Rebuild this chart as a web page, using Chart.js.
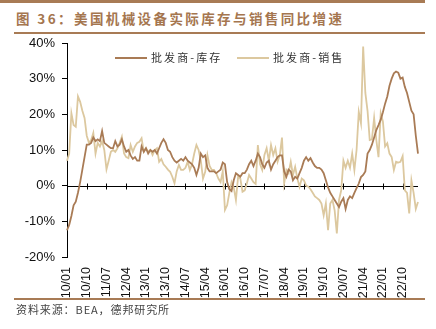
<!DOCTYPE html>
<html lang="zh-CN">
<head>
<meta charset="UTF-8">
<title>美国机械设备实际库存与销售同比增速</title>
<script src="https://cdn.jsdelivr.net/npm/chart.js"></script>
<style>
  body { margin: 0; background: #fff; font-family: "Noto Sans CJK SC", sans-serif; }
  #page { position: relative; width: 436px; height: 329px; overflow: hidden; }
  #chartBox { position: absolute; left: 0; top: 0; width: 436px; height: 329px; }
  .rule { position: absolute; background: #a87b55; }
  #title { position: absolute; left: 16px; top: 8px; font-size: 13.5px; font-weight: bold; color: #a5764f; letter-spacing: 2.4px; white-space: nowrap; }
  #source { position: absolute; left: 16px; top: 301px; font-size: 11px; color: #444; letter-spacing: 0.9px; white-space: nowrap; }
  .legend { position: absolute; top: 49px; font-size: 11px; color: #333; letter-spacing: 2.1px; white-space: nowrap; }
  .legend i { display: inline-block; width: 32px; height: 2px; vertical-align: middle; margin-right: 4px; margin-top: -2px; }
</style>
</head>
<body>
<div id="page">
  <div class="rule" style="left:0;top:0;width:425px;height:3px;"></div>
  <div id="title">图 36：美国机械设备实际库存与销售同比增速</div>
  <div class="rule" style="left:14px;top:32px;width:411px;height:1.5px;"></div>
  <div id="chartBox"><canvas id="chart"></canvas></div>
  <div class="legend" style="left:115px;"><i style="background:#a97b55"></i>批发商-库存</div>
  <div class="legend" style="left:237px;"><i style="background:#dcc89f"></i>批发商-销售</div>
  <div class="rule" style="left:14px;top:298px;width:411px;height:1.5px;"></div>
  <div id="source">资料来源：BEA，德邦研究所</div>
</div>
<script>
// monthly categories 2010/01 .. 2023/05
const months = [];
for (let y = 10; y <= 23; y++) {
  for (let m = 1; m <= 12; m++) {
    if (y === 23 && m > 5) break;
    months.push(String(y).padStart(2, '0') + '/' + String(m).padStart(2, '0'));
  }
}

// labels shown on the x axis (every 9 months)
const tickLabels = ['10/01', '10/10', '11/07', '12/04', '13/01', '13/10', '14/07', '15/04', '16/01',
  '16/10', '17/07', '18/04', '19/01', '19/10', '20/07', '21/04', '22/01', '22/10'];

// wholesalers, real inventories, YoY %
const inventory = [
  -12.5, -11, -8.5, -5.5, -4.5, -2, 1, 4.5, 8, 11.5,
  11.5, 12, 13.5, 12.5, 13, 12.5, 15.3, 12, 11.5, 11,
  10.5, 10.5, 12.5, 11, 11.5, 13, 11, 9.5, 10, 8.5,
  7.5, 8, 7, 7, 11, 9.5, 10.5, 9, 10, 9.5,
  10, 9, 10.5, 12, 13, 12, 10, 9.5, 8, 7,
  6.5, 7, 7.5, 7, 8, 7, 6.5, 6, 5, 3,
  5, 9, 8, 8.5, 5, 4, 4, 4, 3.5, 4,
  4.5, 6.5, 6, 1, -1, -1.5, 1.5, 3.5, 3, 2.5,
  3.5, 3.5, 4.5, 6, 7, 5.5, 7, 9, 8, 6,
  5, 6.5, 7, 4.5, 6, 7, 8, 8.5, 8.5, 4,
  2.5, 4.5, 4, 1.5, 2.5, 2, 3.5, 5, 7, 8,
  7, 7.7, 6.5, 5.5, 5, 5, 4.5, 3.5, 1.5, -0.5,
  -2, -3, -4, -5, -6, -4.5, -3.5, -6.5, -4, -3,
  -3.5, -2, -0.7, 0.6, 2.4, 3, 4, 9, 10, 11.5,
  13.5, 15.6, 17, 18.5, 20.6, 23, 25, 28, 30, 31.5,
  32, 31.7, 30, 30.3, 27.7, 26, 23.5, 21, 20, 14,
  9
];

// wholesalers, real sales, YoY %
const sales = [
  7, 9, 20.3, 17, 16.5, 25, 23.5, 21, 19, 14,
  12, 12.8, 14.8, 9, 12, 11, 12.5, 10, 4.6, 7,
  9.5, 10, 9.5, 10.5, 12, 13.7, 9, 8, 7.7, 11.4,
  9.5, 11, 12, 12.3, 13.3, 9.5, 10.5, 9.5, 10, 8.6,
  10, 10.5, 6.7, 7.5, 6, 5.3, 4.5, 3.9, 2.5, 0.7,
  4, 5.8, 4.4, 4.4, 5, 6.7, 4.4, 6, 9, 11.4,
  10, 7, 2, 3.9, 8.6, 5.5, 4.4, 4.4, 3.5, 2,
  1, 4, -6.8, -5.5, -2, 1, -0.5, -4, 2.5, 2,
  -1.7, -1.3, 0.7, 3, 2, 1, 0.5, 11.4, 6, 4.4,
  8.6, 10.5, 7, 11.4, 8.6, 10.5, 6.7, 8.6, 13.5, 0.7,
  4.4, 3.5, 6.7, 3, 5.3, 2, -0.3, 2, 1.5, 0,
  -0.3, -1, -2, -3, -3.5, -4, -5, -8.3, -5, -12.5,
  -5, -4, -6.9, -13.4, -4, -1.3, 7, 5, 7, 5,
  9, 4.4, 10, 20.7, 17.5, 39, 26, 21, 12.8, 13,
  19, 12.8, 8, 20.3, 18, 11, 11.9, 9, 8, 4.4,
  6.7, 6.5, 6.7, 8.3, -1.3, -2, -7.8, 1.5, -2, -6.5,
  -4.6
];

const numFont = { family: '"Liberation Sans", Arial, sans-serif', size: 13 };

// x axis drawn through 0% with ticks crossing it
const zeroAxis = {
  id: 'zeroAxis',
  beforeDatasetsDraw(chart) {
    const { ctx, scales: { x, y } } = chart;
    const y0 = Math.round(y.getPixelForValue(0)) + 0.5;
    ctx.save();
    ctx.strokeStyle = '#000';
    ctx.lineWidth = 1;
    ctx.beginPath();
    ctx.moveTo(x.left, y0);
    ctx.lineTo(x.right, y0);
    months.forEach((m, i) => {
      if (tickLabels.includes(m)) {
        const px = Math.round(x.getPixelForValue(i)) + 0.5;
        ctx.moveTo(px, y0 - 3);
        ctx.lineTo(px, y0 + 3);
      }
    });
    ctx.stroke();
    ctx.restore();
  }
};

new Chart(document.getElementById('chart'), {
  type: 'line',
  data: {
    labels: months,
    datasets: [
      { label: '批发商-库存', data: inventory, borderColor: '#a97b55', borderWidth: 1.8, pointRadius: 0, tension: 0 },
      { label: '批发商-销售', data: sales, borderColor: '#dcc89f', borderWidth: 1.8, pointRadius: 0, tension: 0 }
    ]
  },
  options: {
    responsive: true,
    maintainAspectRatio: false,
    animation: false,
    layout: { padding: { left: 0, right: 18, top: 43, bottom: 0 } },
    plugins: { legend: { display: false }, tooltip: { enabled: false } },
    scales: {
      x: {
        grid: { display: false, drawTicks: false },
        border: { display: false },
        ticks: {
          autoSkip: false,
          minRotation: 90,
          maxRotation: 90,
          padding: 10,
          color: '#111',
          font: { family: numFont.family, size: 12.5 },
          callback(v) {
            const m = this.getLabelForValue(v);
            return tickLabels.includes(m) ? m : null;
          }
        },
        afterFit(scale) { scale.height = 72; }
      },
      y: {
        min: -20,
        max: 40,
        ticks: { stepSize: 10, padding: 7, color: '#111', font: numFont, callback: v => v + '%' },
        grid: { drawOnChartArea: false, drawTicks: true, tickLength: 5, color: '#000' },
        border: { color: '#000', width: 1 },
        afterFit(scale) { scale.width = 67; }
      }
    }
  },
  plugins: [zeroAxis]
});
</script>
</body>
</html>
